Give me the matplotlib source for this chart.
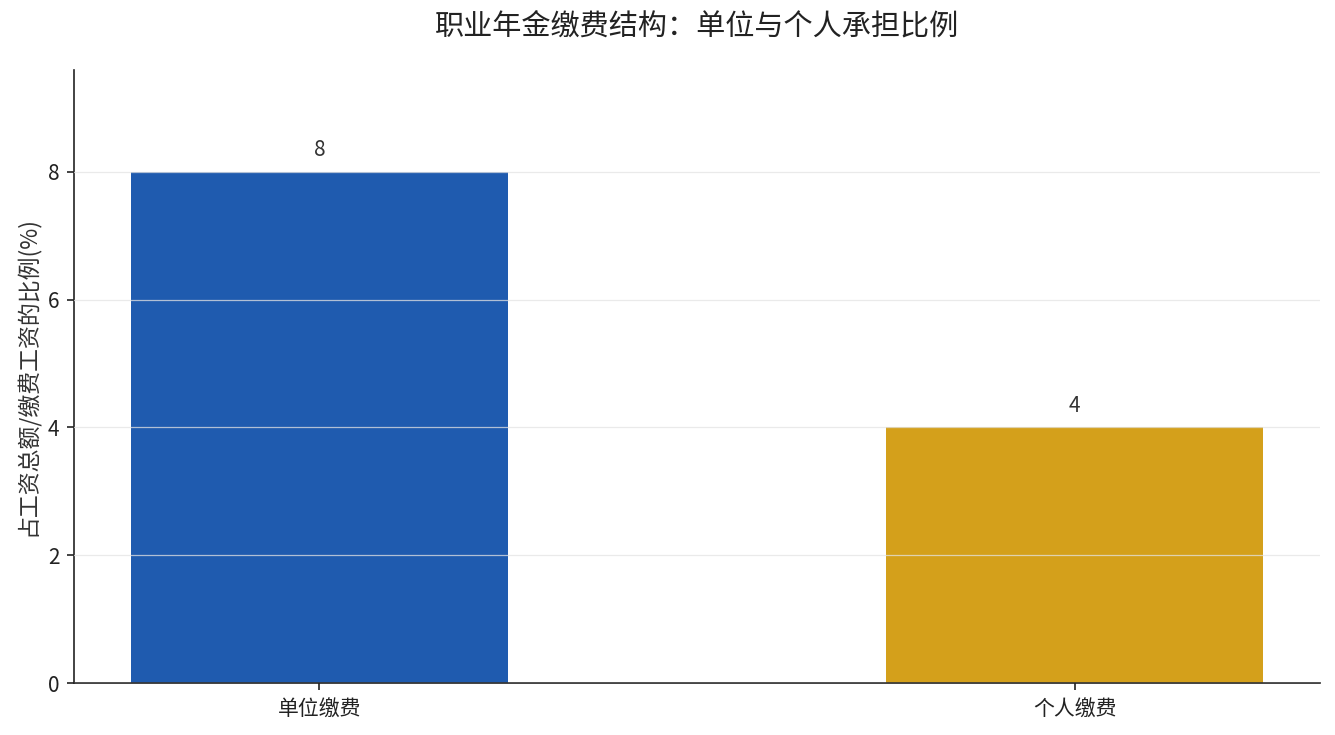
import matplotlib
matplotlib.use('Agg')
import matplotlib.pyplot as plt

plt.rcParams['font.family'] = ['Noto Sans CJK SC', 'DejaVu Sans']

# data
categories = ['单位缴费', '个人缴费']
values = [8, 4]
colors = ['#1f5baf', '#d4a01b']

fig = plt.figure(figsize=(8.9, 4.9), dpi=150)
ax = fig.add_axes([0.0554, 0.0707, 0.9334, 0.8346])

bars = ax.bar(categories, values, width=0.5, color=colors, zorder=2)
ax.bar_label(bars, labels=[str(v) for v in values], padding=5, fontsize=10, color='#333333')

ax.set_ylim(0, max(values) * 1.2)
ax.set_yticks([0, 2, 4, 6, 8])
ax.set_ylabel('占工资总额/缴费工资的比例(%)', fontsize=11, color='#333333')
ax.set_title('职业年金缴费结构：单位与个人承担比例', fontsize=14, color='#222222', pad=17)

# light grid drawn over the bars
ax.yaxis.grid(True, color='#e3e3e3', alpha=0.75, linewidth=0.6, zorder=3)
ax.set_axisbelow(False)
for s in ['top', 'right']:
    ax.spines[s].set_visible(False)
for s in ['left', 'bottom']:
    ax.spines[s].set_color('#222222')
ax.tick_params(labelsize=10, colors='#222222')

fig.savefig('out.png', dpi=150)
